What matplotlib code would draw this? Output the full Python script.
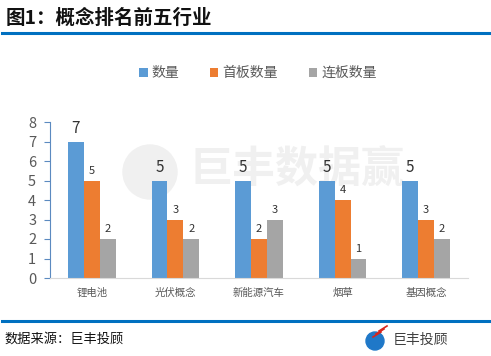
import numpy as np
import matplotlib.pyplot as plt
from matplotlib.patches import Ellipse

plt.rcParams['font.family'] = ['Noto Sans CJK SC', 'DejaVu Sans']

# 数据
categories = ['锂电池', '光伏概念', '新能源汽车', '烟草', '基因概念']
series_names = ['数量', '首板数量', '连板数量']
count_total = [7, 5, 5, 5, 5]
count_first = [5, 3, 2, 4, 3]
count_multi = [2, 2, 3, 1, 2]
colors = ['#5b9bd5', '#ed7d31', '#a5a5a5']

W, H = 491, 356
fig = plt.figure(figsize=(W / 100, H / 100), dpi=100)

def px(x, y):
    # 像素坐标 -> figure 坐标
    return x / W, 1 - y / H

# 标题和分隔线
fig.text(*px(6, 18), '图1：概念排名前五行业', fontsize=14, fontweight='bold',
         color='#111111', va='center', ha='left')
fig.add_artist(plt.Line2D([2 / W, 489 / W], [1 - 33 / H] * 2, color='#0070c0', lw=2.2))
fig.add_artist(plt.Line2D([2 / W, 489 / W], [1 - 321 / H] * 2, color='#0070c0', lw=2.2))

# 页脚
fig.text(*px(4, 339), '数据来源：巨丰投顾', fontsize=9.5, color='#111111', va='center', ha='left')
fig.add_artist(Ellipse(px(375, 341), 18 / W, 18 / H, transform=fig.transFigure, color='#1f78c8'))
for k in range(3):
    fig.add_artist(plt.Line2D([(373 + k * 3) / W, (381 + k * 3) / W],
                              [1 - (337 - k * 3) / H, 1 - (332 - k * 3) / H],
                              color='#d7261e', lw=1.2))
fig.text(*px(393, 340), '巨丰投顾', fontsize=10, color='#404040', va='center', ha='left')

# 水印 (画在图表后面)
fig.text(*px(297, 170), '巨丰数据赢', fontsize=31, fontweight='bold', color='#f0f0f0',
         va='center', ha='center', zorder=-5)
fig.add_artist(Ellipse(px(150, 172), 54 / W, 54 / H, transform=fig.transFigure,
                       color='#f0f0f0', zorder=-5))

# 主图
left, right, top, bottom = 50, 468, 122, 278
ax = fig.add_axes([left / W, 1 - bottom / H, (right - left) / W, (bottom - top) / H])
ax.patch.set_alpha(0)
ax.set_zorder(2)

x = np.arange(len(categories))
bw = 0.19
all_series = [count_total, count_first, count_multi]
label_sizes = [11, 8, 8]
for i, (vals, name, c) in enumerate(zip(all_series, series_names, colors)):
    pos = x + (i - 1) * bw
    bars = ax.bar(pos, vals, width=bw, color=c, label=name, zorder=2)
    for b, v in zip(bars, vals):
        ax.text(b.get_x() + b.get_width() / 2, v + 0.25, str(v), ha='center', va='bottom',
                fontsize=label_sizes[i], color='#333333')

ax.set_xlim(-0.5, len(categories) - 0.5)
ax.set_ylim(0, 8)
ax.set_yticks(range(9))
ax.set_xticks(x)
ax.set_xticklabels(categories, fontsize=7.5, color='#595959')
ax.tick_params(axis='x', length=0, pad=7)
ax.tick_params(axis='y', labelsize=10.5, labelcolor='#595959', color='#5b8ac0',
               length=4, direction='out', pad=6)
for s in ['top', 'right']:
    ax.spines[s].set_visible(False)
ax.spines['left'].set_color('#5b8ac0')
ax.spines['bottom'].set_color('#d9d9d9')

leg = fig.legend(loc='center', bbox_to_anchor=px(258, 73), ncol=3, frameon=False,
                 fontsize=10, handlelength=0.6, handleheight=0.6, handletextpad=0.3,
                 columnspacing=2.2)
for t in leg.get_texts():
    t.set_color('#595959')

fig.savefig('out.png', dpi=100)
